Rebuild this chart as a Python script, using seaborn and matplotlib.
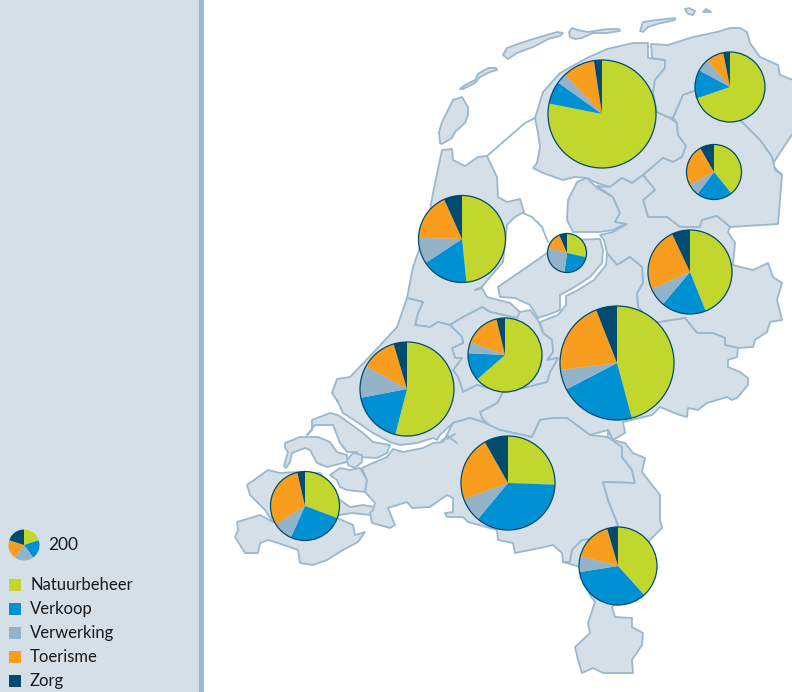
"""Pie charts per province on a map of the Netherlands."""
import numpy as np
import seaborn as sns
import matplotlib.pyplot as plt
from matplotlib.patches import Circle, Polygon, Rectangle

# data
provinces = ['Friesland', 'Groningen', 'Drenthe', 'Noord-Holland', 'Flevoland', 'Overijssel',
             'Gelderland', 'Utrecht', 'Zuid-Holland', 'Noord-Brabant', 'Zeeland', 'Limburg']
totals = [2428, 1020, 630, 1575, 317, 1469, 2705, 1140, 1839, 1839, 991, 1266]
natuurbeheer = [78.2, 69.8, 39.2, 48.5, 28.5, 43.9, 45.8, 63.5, 54.0, 25.6, 30.7, 38.3]
verkoop = [6.8, 13.1, 21.1, 17.4, 23.7, 17.2, 21.5, 12.2, 18.0, 35.5, 26.0, 34.2]
verwerking = [3.1, 5.8, 6.9, 9.7, 27.2, 7.2, 5.7, 4.9, 11.0, 8.4, 9.3, 6.6]
toerisme = [9.6, 8.2, 24.5, 17.9, 14.2, 24.6, 21.0, 15.6, 12.4, 22.4, 30.4, 16.4]
zorg = [2.4, 3.1, 8.3, 6.75, 6.5, 7.0, 5.95, 3.7, 4.6, 8.2, 3.6, 4.5]
categories = ['Natuurbeheer', 'Verkoop', 'Verwerking', 'Toerisme', 'Zorg']
legend_total = 200
legend_values = [40, 40, 40, 40, 40]

# pie centres on the map, in pixels from the top left
centre_x = [602, 730, 714, 462, 567, 690, 617, 505, 407, 508, 305, 618]
centre_y = [114, 87, 172, 239, 253, 272, 363, 355, 389, 483, 506, 566]

# map outlines, in pixels from the top left
land = [
    # Friesland
    [(535,118),(543,92),(560,73),(587,58),(607,49),(633,43),(648,43),(648,58),(665,60),(665,68),(655,80),
     (653,93),(657,112),(668,117),(677,123),(678,135),(686,146),(682,157),(673,162),(663,158),(643,175),
     (632,183),(622,178),(610,187),(597,183),(587,178),(575,177),(563,180),(543,173),(533,168),(537,163),
     (540,147),(538,133)],
    # Groningen
    [(651,44),(668,45),(693,37),(717,32),(730,28),(740,28),(747,32),(750,43),(760,57),(778,65),(780,75),
     (793,80),(793,133),(772,165),(782,175),(775,170),(772,157),(760,140),(742,122),(697,90),(683,95),
     (673,118),(668,117),(657,112),(653,93),(655,80),(665,68),(665,60),(652,58)],
    # Drenthe
    [(673,118),(683,95),(697,90),(742,122),(760,140),(772,157),(775,170),(782,175),(780,200),(778,224),
     (730,227),(717,216),(702,220),(700,227),(680,227),(667,217),(648,217),(643,200),(655,190),(643,175),
     (663,158),(673,162),(682,157),(686,146),(678,135),(677,123)],
    # Noordoostpolder
    [(568,200),(577,182),(587,178),(597,188),(613,197),(620,213),(615,222),(627,223),(613,230),(600,232),
     (573,232),(567,220)],
    # Overijssel
    [(597,186),(610,187),(622,178),(632,183),(643,175),(655,190),(643,200),(648,217),(667,217),(680,227),
     (700,227),(702,220),(717,216),(730,227),(728,232),(735,243),(733,265),(753,270),(768,263),(773,277),
     (782,283),(777,300),(782,320),(770,322),(767,332),(755,340),(753,347),(738,348),(725,345),(725,338),
     (713,333),(697,333),(685,318),(660,322),(650,322),(638,307),(637,293),(643,283),(642,267),(630,257),
     (617,265),(607,253),(604,240),(600,235),(613,232),(627,224),(615,222),(620,213),(613,197)],
    # Noord-Holland
    [(442,150),(452,149),(453,160),(465,166),(478,157),(487,156),(497,177),(498,197),(507,202),(520,199),
     (524,212),(515,217),(507,225),(503,262),(490,277),(482,287),(475,290),(482,288),(487,297),(510,303),
     (520,312),(517,318),(490,312),(482,307),(477,310),(463,317),(450,325),(438,322),(430,327),(415,325),
     (418,313),(423,302),(407,298),(413,267),(427,227),(433,193)],
    # Flevoland
    [(498,287),(527,267),(547,253),(573,240),(600,239),(603,250),(602,263),(590,277),(573,288),(560,295),
     (560,310),(553,313),(538,318),(530,305),(515,298),(500,297)],
    # Gelderland
    [(540,322),(558,315),(566,305),(566,296),(578,290),(594,280),(606,265),(607,253),(617,265),(630,257),
     (642,267),(643,283),(637,293),(638,307),(650,322),(660,322),(685,318),(697,333),(713,333),(725,338),
     (725,345),(738,348),(737,357),(728,360),(728,367),(740,372),(748,378),(748,385),(737,398),(732,400),
     (727,397),(707,403),(698,410),(688,408),(687,417),(680,415),(672,412),(660,407),(652,415),(623,422),
     (625,433),(613,440),(608,430),(590,435),(567,418),(553,418),(540,420),(532,437),(500,430),(493,430),
     (482,418),(480,412),(497,403),(503,392),(527,387),(547,382),(550,372),(558,358),(547,360),(553,352),
     (552,340),(543,333)],
    # Utrecht
    [(450,325),(463,317),(477,310),(482,307),(490,312),(517,318),(520,312),(530,310),(538,320),(543,333),
     (552,340),(553,352),(547,360),(558,358),(550,372),(547,382),(527,387),(503,392),(477,385),(463,392),
     (458,377),(453,370),(462,358),(455,358),(452,348),(463,343),(462,337)],
    # Zuid-Holland
    [(407,298),(423,302),(418,313),(415,325),(430,327),(438,322),(450,325),(462,337),(463,343),(452,348),
     (455,358),(462,358),(453,370),(458,377),(463,392),(477,385),(503,392),(497,403),(480,412),(482,418),
     (493,430),(483,422),(470,418),(453,423),(440,435),(437,440),(433,438),(417,443),(400,445),(390,442),
     (373,433),(357,422),(343,413),(337,400),(338,402),(332,393),(337,379),(350,377),(373,353),(397,327)],
    # Goeree-Overflakkee
    [(307,435),(312,430),(312,420),(330,413),(338,415),(345,420),(363,433),(373,442),(390,445),(387,453),
     (377,458),(358,457),(357,452),(347,452),(340,443),(333,425),(315,425)],
    # Schouwen-Duiveland
    [(285,443),(300,437),(318,437),(330,442),(337,452),(347,455),(347,462),(327,467),(317,463),(310,450),
     (305,448),(292,453),(290,462),(286,468),(284,466),(288,452),(285,448)],
    # Tholen
    [(347,460),(353,453),(362,455),(362,462),(355,468),(348,465)],
    # Sint Philipsland
    [(330,475),(340,468),(350,470),(360,468),(367,480),(365,492),(347,490),(340,487),(337,480)],
    # Walcheren en Beveland
    [(247,485),(268,470),(280,473),(297,472),(320,473),(330,485),(340,500),(350,507),(363,505),(375,507),
     (370,515),(352,513),(340,515),(325,518),(290,530),(275,525),(265,510),(250,495)],
    # Zeeuws-Vlaanderen
    [(237,522),(260,515),(273,522),(337,518),(353,525),(355,535),(365,532),(358,542),(343,550),(327,560),
     (313,565),(300,563),(298,550),(278,543),(268,540),(260,543),(258,553),(245,553),(235,537),(238,530)],
    # Noord-Brabant
    [(362,468),(373,463),(387,457),(393,449),(403,452),(423,448),(433,443),(443,442),(453,423),(470,418),
     (483,422),(500,430),(532,437),(540,420),(553,418),(567,418),(590,435),(608,437),(622,447),(622,457),
     (632,470),(635,483),(603,482),(608,500),(618,525),(608,537),(582,540),(572,550),(570,562),(563,562),
     (562,553),(553,545),(540,548),(515,553),(513,543),(498,540),(497,530),(468,522),(463,517),(447,517),
     (445,513),(453,512),(453,498),(447,495),(430,507),(412,508),(407,502),(388,508),(395,525),(390,528),
     (372,523),(370,513),(373,510),(375,503),(365,492),(367,480)],
    # Limburg
    [(608,430),(613,440),(625,443),(633,453),(645,458),(642,472),(660,495),(660,520),(662,528),(650,540),
     (640,560),(625,595),(612,607),(615,617),(632,618),(632,627),(643,633),(642,645),(632,660),(633,673),
     (615,673),(603,673),(593,668),(582,673),(578,660),(575,647),(590,633),(588,623),(595,602),(590,595),
     (580,567),(563,562),(570,562),(572,550),(582,540),(608,537),(618,525),(608,500),(603,482),(635,483),
     (632,470),(622,457),(622,447),(608,437)],
    # Texel
    [(440,143),(439,132),(442,122),(447,112),(453,100),(462,97),(468,107),(468,115),(465,123),(455,132),
     (452,138),(442,144)],
    # Vlieland
    [(460,89),(465,85),(475,80),(478,74),(488,68),(496,68),(497,70),(490,72),(480,77),(475,83),(463,89)],
    # Terschelling
    [(503,55),(507,48),(515,45),(533,39),(547,35),(557,32),(563,33),(560,36),(548,39),(543,42),(533,47),
     (517,53),(508,59)],
    # Ameland
    [(569,32),(572,28),(578,30),(588,32),(607,29),(619,29),(620,31),(607,33),(593,33),(582,38),(575,39),
     (570,37)],
    # Schiermonnikoog
    [(640,31),(643,22),(657,20),(675,18),(675,20),(657,24),(648,27),(643,32)],
    # Rottumeroog en Rottumerplaat
    [(685,9),(689,8),(695,11),(693,15),(689,14),(687,13)],
    [(703,12),(706,9),(711,12)],
]
dikes = [
    [(487,156),(525,123),(535,118)],
    [(523,213),(532,217),(542,227),(548,242)],
    [(441,441),(448,436),(457,443)],
    [(447,439),(455,434)],
]

palette = sns.color_palette(['#C1D72E', '#0090D4', '#94B3C8', '#F99D1E', '#004B6E'])
panel_color = '#D4DFE8'
line_color = '#9AB8CD'
H = 692

sns.set_theme(style='white')
plt.rcParams['font.family'] = ['Lato', 'DejaVu Sans']

fig = plt.figure(figsize=(7.92, 6.92), dpi=100)
ax = fig.add_axes([0, 0, 1, 1])


def flip(points):
    pts = np.array(points, dtype=float)
    pts[:, 1] = H - pts[:, 1]
    return pts


def radius_for(total):
    return 15.5 * np.sqrt(total / legend_total)


# side panel
ax.add_patch(Rectangle((0, 0), 199, H, fc=panel_color, ec='none', zorder=1))
ax.add_patch(Rectangle((199, 0), 5, H, fc=line_color, ec='none', zorder=1))

# map
for outline in land:
    ax.add_patch(Polygon(flip(outline), closed=True, fc=panel_color, ec=line_color, lw=1.3,
                         joinstyle='round', zorder=2))
for dike in dikes:
    pts = flip(dike)
    ax.plot(pts[:, 0], pts[:, 1], color=line_color, lw=1.3, zorder=2)

# provinces
for i, name in enumerate(provinces):
    shares = [natuurbeheer[i], verkoop[i], verwerking[i], toerisme[i], zorg[i]]
    r = radius_for(totals[i])
    c = (centre_x[i], H - centre_y[i])
    wedges, _ = ax.pie(shares, colors=palette, center=c, radius=r, startangle=90, counterclock=False,
                       wedgeprops=dict(linewidth=0))
    for w in wedges:
        w.set_zorder(3)
    ax.add_patch(Circle(c, r, fc='none', ec=palette[4], lw=0.9, zorder=4))

# legend
wedges, _ = ax.pie(legend_values, colors=palette, center=(24, H - 545), radius=radius_for(legend_total),
                   startangle=90, counterclock=False, wedgeprops=dict(linewidth=0))
for w in wedges:
    w.set_zorder(3)
ax.text(48, H - 545, str(legend_total), fontsize=12.5, color='#1a1a1a', va='center', ha='left', zorder=5)

legend_y = [585, 609, 633, 657, 681]
for name, color, y in zip(categories, palette, legend_y):
    ax.scatter([15], [H - y], marker='s', s=72, color=color, linewidths=0, zorder=5)
    ax.text(30, H - y, name, fontsize=12, color='#1a1a1a', va='center', ha='left', zorder=5)

ax.set_xlim(0, 792)
ax.set_ylim(0, H)
ax.set_aspect('auto')
ax.axis('off')

fig.savefig('out.png', dpi=100, facecolor='white')
